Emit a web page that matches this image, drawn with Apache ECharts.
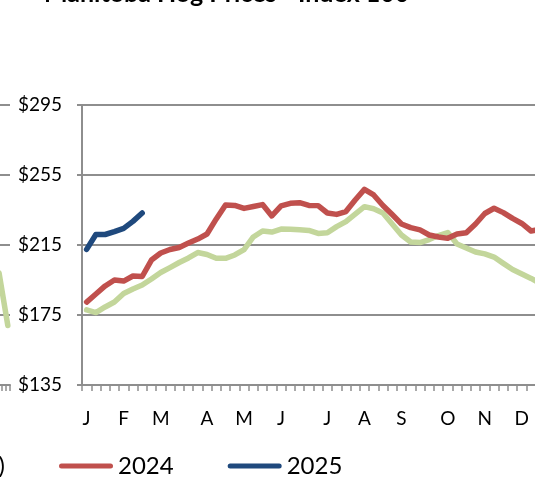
<!DOCTYPE html>
<html>
<head>
<meta charset="utf-8">
<script src="https://cdn.jsdelivr.net/npm/echarts@6/dist/echarts.min.js"></script>
<style>
  html, body { margin: 0; padding: 0; width: 535px; height: 477px; overflow: hidden; background: #fff; }
  #chart { position: absolute; left: -60px; top: 0; width: 635px; height: 477px; }
</style>
</head>
<body>
<div id="chart"></div>
<script>
// weekly categories, month letters on the first week of each month
const weeks = ['W1','W2','W3','W4','W5','W6','W7','W8','W9','W10','W11','W12','W13',
  'W14','W15','W16','W17','W18','W19','W20','W21','W22','W23','W24','W25','W26',
  'W27','W28','W29','W30','W31','W32','W33','W34','W35','W36','W37','W38','W39',
  'W40','W41','W42','W43','W44','W45','W46','W47','W48','W49','W50','W51','W52'];
const monthTicks = ['J','','','','F','','','','M','','','','','A','','','','M','','','',
  'J','','','','','J','','','','A','','','','S','','','','','O','','','','N','','','',
  'D','','','',''];

const avg5 = [177.9,176.4,179.6,182.4,187.3,189.9,192.1,195.6,199.3,202.1,
  205,207.6,210.7,209.6,207.4,207.4,209.3,212.4,219.6,223,
  222.4,224.1,224,223.7,223.3,221.6,222,225.5,228.4,232.7,
  236.9,235.7,233.3,227,220.7,216.7,216.4,218.1,220.4,222.1,
  215.6,213.3,211,209.9,208.1,204.5,201,198.4,195.9,193,191,189];
const y2024 = [182.4,187,191.6,195,194.4,197.3,197,206.4,210.4,212.4,
  213.6,216.1,218.4,221.3,229.9,237.9,237.6,235.9,237,238.1,
  231.6,237.3,238.8,239.2,237.6,237.5,233.3,232.5,234.1,240.7,
  246.8,243.6,237.6,232.4,227,224.9,223.6,220.7,219.6,218.8,
  221.3,222,227,233,236,233.5,230.2,227.3,223,224,225,226];
const y2025 = [212.5,221,221,222.6,224.5,228.5,233.3];

// right edge of the neighbouring chart, cut off on the left
const prevCats = ['1','2','3','4','5','6','7','8','9','10','11','12','13','14','15','16'];
const prevAvg = [null,null,null,null,null,null,null,null,null,null,null,null,null,199,184,169];

const yMin = 135, yMax = 295, yStep = 40;

const gray = '#8e8e8e';
const font = 'Lato';
const names = ['5 Yr Avg (2019-2023)', '2024', '2025'];
const capsule = 'path://M2.5,0 L51.5,0 A2.5,2.5 0 0 1 51.5,5 L2.5,5 A2.5,2.5 0 0 1 2.5,0 Z';

const chart = echarts.init(document.getElementById('chart'));

function lineSeries(name, data, color, xi) {
  return {
    name: name,
    type: 'line',
    data: data,
    xAxisIndex: xi,
    yAxisIndex: xi,
    symbol: 'none',
    smooth: false,
    lineStyle: { color: color, width: 5.5, cap: 'round', join: 'round' },
    itemStyle: { color: color },
    emphasis: { disabled: true },
    animation: false
  };
}

chart.setOption({
  animation: false,
  title: {
    text: 'Manitoba Hog Prices - Index 100',
    left: 99,
    top: -24,
    textStyle: { fontFamily: font, fontWeight: 'bold', fontSize: 25, color: '#000' }
  },
  legend: [
    {
      data: [names[0]],
      right: 570,
      top: 454,
      padding: 0,
      itemWidth: 54,
      itemHeight: 5,
      icon: capsule,
      textStyle: { fontFamily: font, fontSize: 24, color: '#000' }
    },
    {
      data: [names[1], names[2]],
      left: 119,
      top: 454,
      padding: 0,
      itemGap: 54,
      itemWidth: 54,
      itemHeight: 5,
      icon: capsule,
      textStyle: { fontFamily: font, fontSize: 24, color: '#000' }
    }
  ],
  grid: [
    { left: 142, right: 11.5, top: 105, bottom: 92, containLabel: false },
    { left: -4, width: 74, top: 105, bottom: 92, containLabel: false }
  ],
  xAxis: [
    {
      type: 'category',
      gridIndex: 0,
      data: weeks,
      boundaryGap: true,
      axisLine: { lineStyle: { color: gray, width: 2 } },
      axisTick: { show: true, interval: 0, length: 6, lineStyle: { color: gray, width: 1.5 } },
      axisLabel: {
        interval: 0,
        margin: 24,
        fontFamily: font,
        fontSize: 19,
        color: '#000',
        formatter: (v, i) => monthTicks[i]
      },
      splitLine: { show: false }
    },
    {
      type: 'category',
      gridIndex: 1,
      data: prevCats,
      boundaryGap: true,
      axisLine: { lineStyle: { color: gray, width: 2 } },
      axisTick: { show: true, interval: 0, length: 6, lineStyle: { color: gray, width: 1.5 } },
      axisLabel: { show: false },
      splitLine: { show: false }
    }
  ],
  yAxis: [
    {
      type: 'value',
      gridIndex: 0,
      min: yMin,
      max: yMax,
      interval: yStep,
      axisLine: { show: true, lineStyle: { color: gray, width: 2 } },
      axisTick: { show: true, length: 5, lineStyle: { color: gray, width: 2 } },
      axisLabel: {
        margin: 20,
        fontFamily: font,
        fontSize: 19,
        color: '#000',
        formatter: v => '$' + v
      },
      splitLine: { show: true, lineStyle: { color: gray, width: 2 } }
    },
    {
      type: 'value',
      gridIndex: 1,
      min: yMin,
      max: yMax,
      interval: yStep,
      axisLine: { show: false },
      axisTick: { show: false },
      axisLabel: { show: false },
      splitLine: { show: true, lineStyle: { color: gray, width: 2 } }
    }
  ],
  series: [
    lineSeries(names[0], avg5, '#c3d69b', 0),
    lineSeries(names[1], y2024, '#c0504d', 0),
    lineSeries(names[2], y2025, '#1f497d', 0),
    lineSeries('prev', prevAvg, '#c3d69b', 1)
  ]
});
</script>
</body>
</html>
